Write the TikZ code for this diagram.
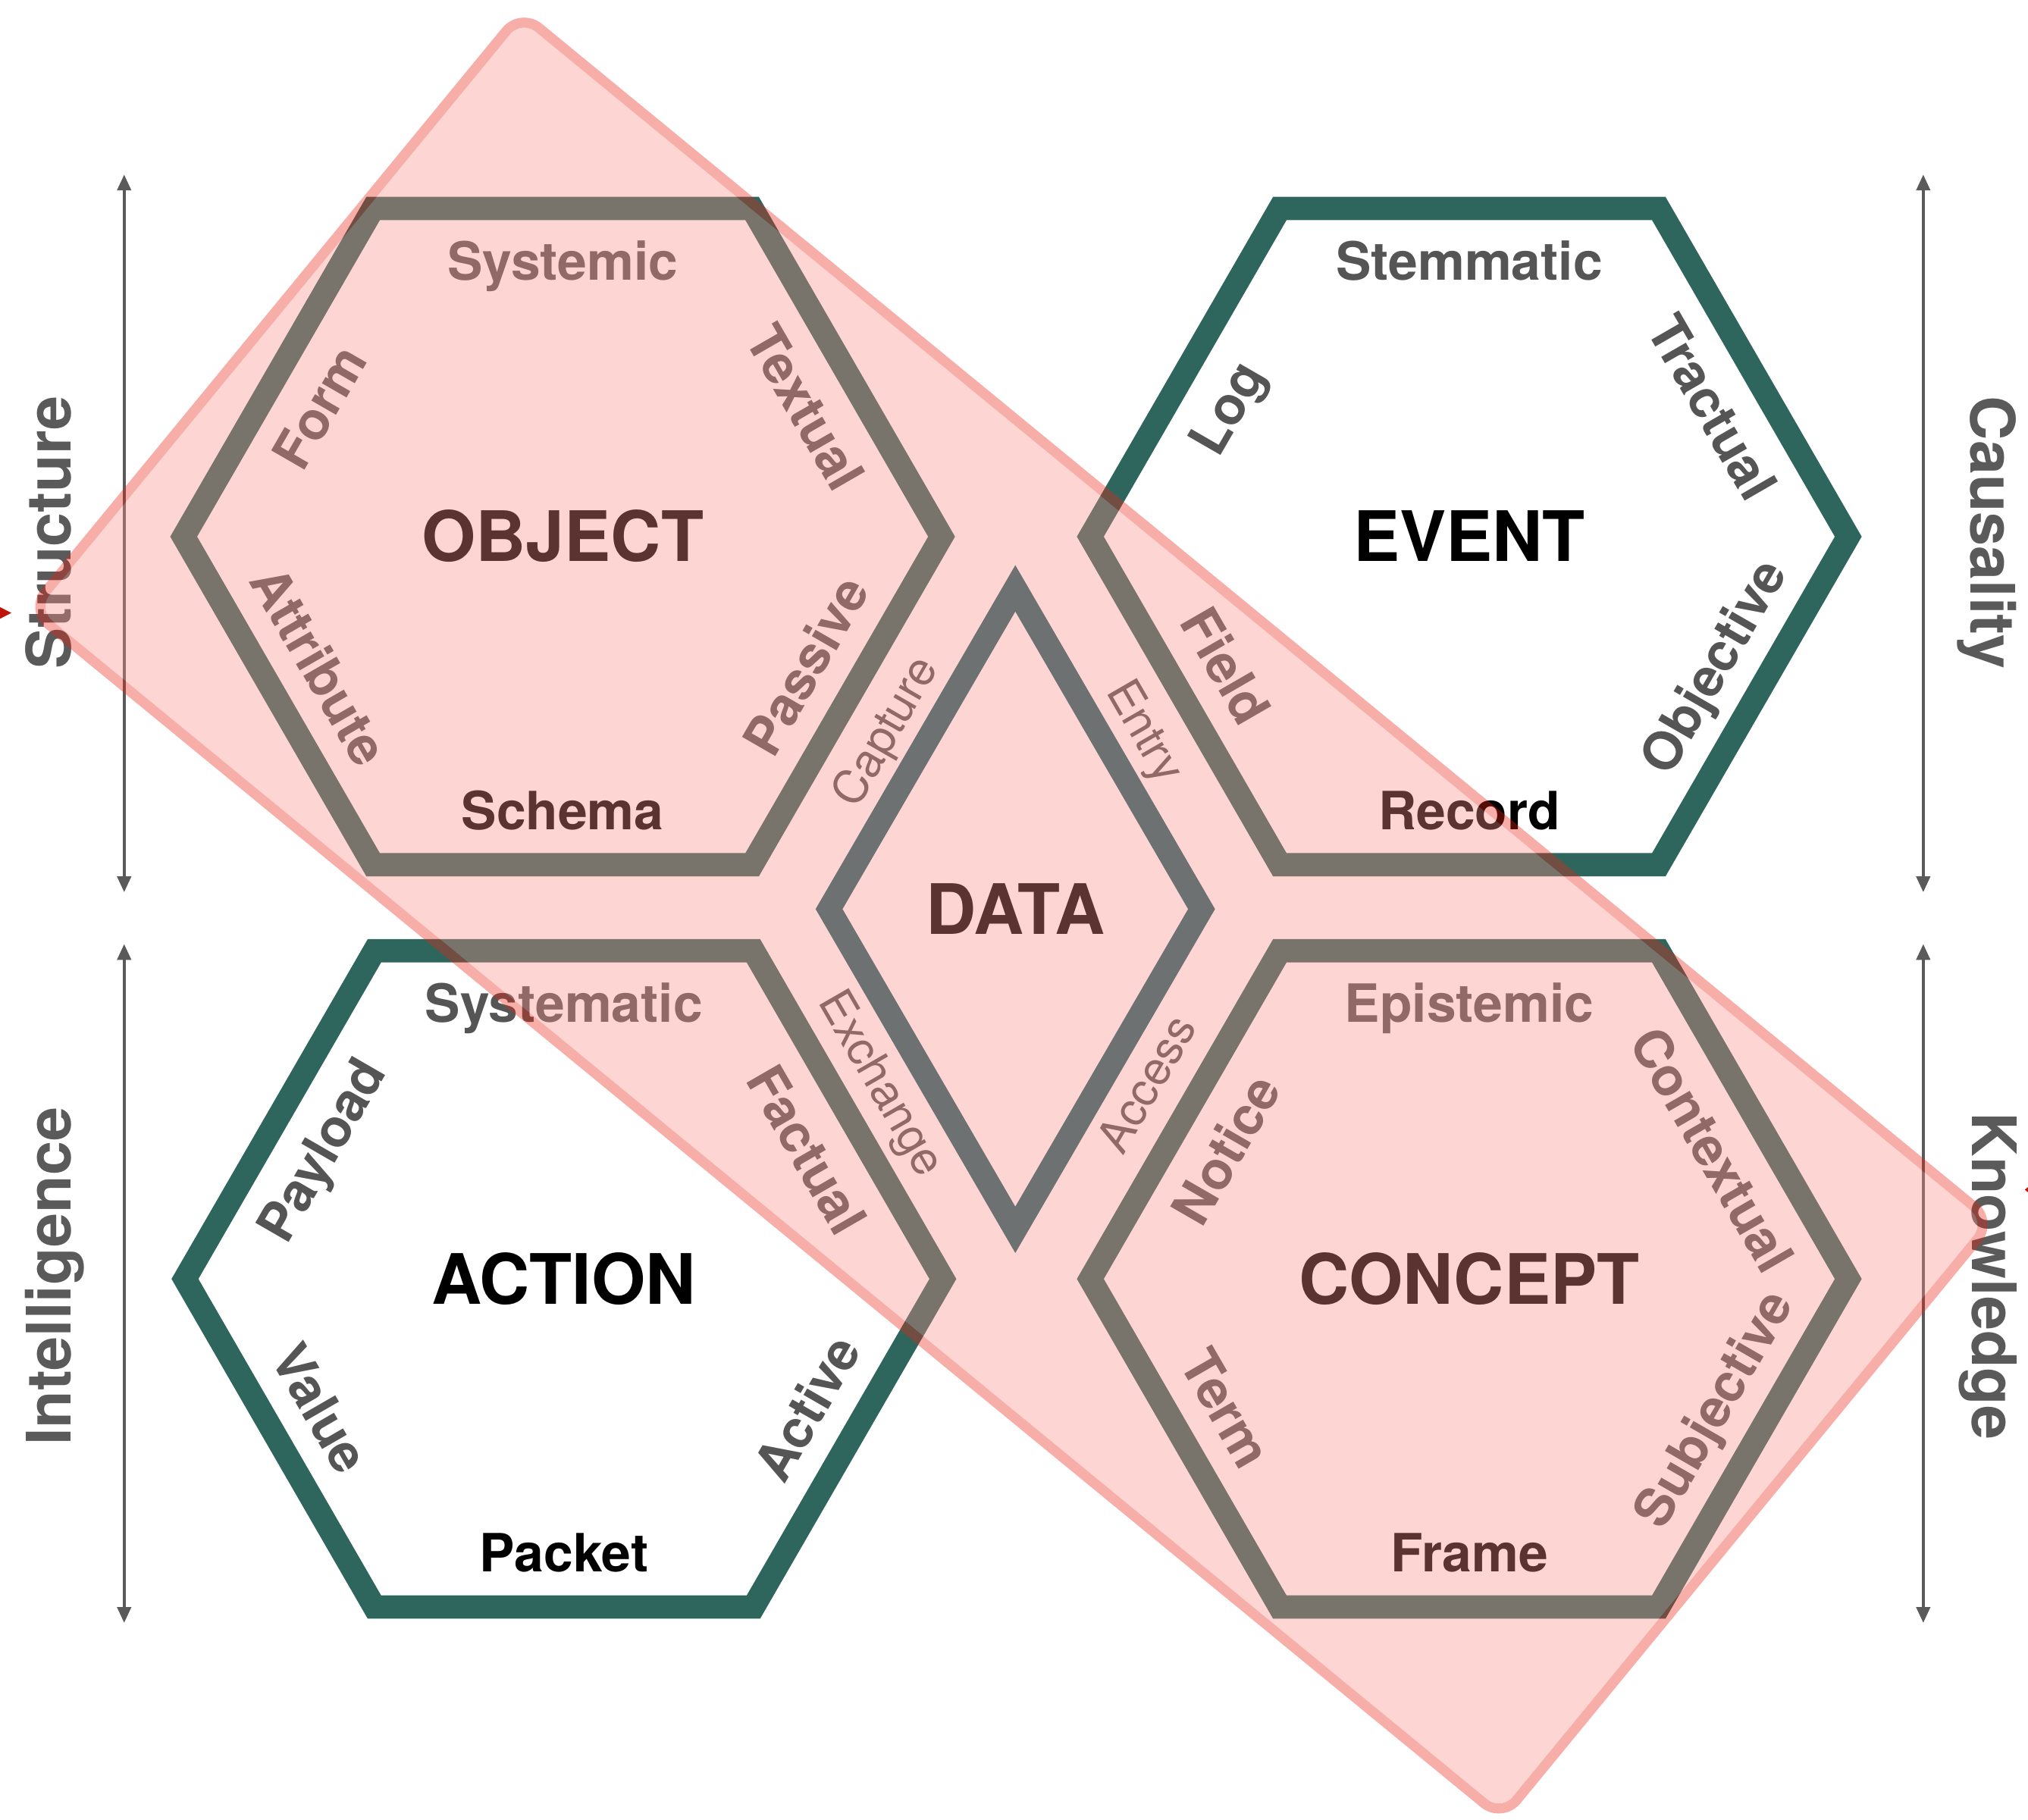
\documentclass[tikz,border=0pt]{standalone}
\usepackage{fontspec}
\setmainfont{TeX Gyre Heros}
\usepackage{tikz}
\usetikzlibrary{calc,arrows.meta}
\definecolor{hexteal}{RGB}{46,102,94}
\definecolor{datateal}{RGB}{28,98,102}
\definecolor{labelgray}{RGB}{85,85,85}
\definecolor{axisgray}{RGB}{90,90,90}
\definecolor{zonefill}{RGB}{249,140,134}
\definecolor{zoneline}{RGB}{233,35,20}
\definecolor{tipred}{RGB}{190,20,10}
\tikzset{
	% ---- default
	every path/.style={line width=0.3pt},
	every node/.style={inner sep=0pt, text depth=0pt},
	% ---- custom
	hexagon/.style={line width=0.18cm, hexteal},
	datadiamond/.style={line width=0.18cm, datateal},
	title/.style={font=\bfseries\fontsize{15.3}{18}\selectfont, text height=11pt},
	facet/.style={font=\bfseries\fontsize{11.6}{14}\selectfont, labelgray, text height=8.35pt},
	basis/.style={font=\bfseries\fontsize{11.6}{14}\selectfont, black, text height=8.35pt},
	flow/.style={font=\fontsize{10.2}{12}\selectfont, labelgray, text height=7.35pt},
	axis/.style={line width=0.7pt, axisgray, <->, >={Triangle[length=3.5pt, width=3pt]}},
	axis label/.style={font=\bfseries\fontsize{13.5}{16}\selectfont, axisgray, text height=9.7pt},
	zone fill/.style={fill=zonefill, fill opacity=0.37},
	zone line/.style={draw=zoneline, draw opacity=0.37, line width=0.078cm},
}
\begin{document}
\begin{tikzpicture}

% coordinates %{{{2

	\useasboundingbox (0,0) rectangle (15.68,14.07);

	\coordinate (object) at (4.35,9.92);
	\coordinate (event) at (11.36,9.92);
	\coordinate (action) at (4.36,4.18);
	\coordinate (concept) at (11.36,4.18);
	\coordinate (data) at (7.85,7.04);

	\coordinate (dt) at (7.85,9.52);
	\coordinate (dr) at (9.29,7.04);
	\coordinate (db) at (7.85,4.56);
	\coordinate (dl) at (6.41,7.04);

% hexagons %{{{2

	\draw[hexagon] (object) ++(0:2.93) -- ++(120:2.93) -- ++(180:2.93) -- ++(240:2.93) -- ++(300:2.93) -- ++(0:2.93) -- cycle;
	\draw[hexagon] (event) ++(0:2.93) -- ++(120:2.93) -- ++(180:2.93) -- ++(240:2.93) -- ++(300:2.93) -- ++(0:2.93) -- cycle;
	\draw[hexagon] (action) ++(0:2.93) -- ++(120:2.93) -- ++(180:2.93) -- ++(240:2.93) -- ++(300:2.93) -- ++(0:2.93) -- cycle;
	\draw[hexagon] (concept) ++(0:2.93) -- ++(120:2.93) -- ++(180:2.93) -- ++(240:2.93) -- ++(300:2.93) -- ++(0:2.93) -- cycle;

% diamond %{{{2

	\draw[datadiamond] (dl) -- (dt) -- (dr) -- (db) -- cycle;

% object labels %{{{2

	\node[title] (objtitle) at (object) {OBJECT};
	\node[facet] (systemic) at ($(object)+(90:2.13)$) {Systemic};
	\node[facet, rotate=60] (form) at ($(object)+(152:2.13)$) {Form};
	\node[facet, rotate=-60] (textual) at ($(object)+(28:2.13)$) {Textual};
	\node[facet, rotate=-60] (attribute) at ($(object)+(208:2.13)$) {Attribute};
	\node[facet, rotate=60] (passive) at ($(object)+(-28:2.13)$) {Passive};
	\node[basis] (schema) at ($(object)+(-90:2.12)$) {Schema};

% event labels %{{{2

	\node[title] (evttitle) at (event) {EVENT};
	\node[facet] (stemmatic) at ($(event)+(90:2.13)$) {Stemmatic};
	\node[facet, rotate=60] (log) at ($(event)+(152:2.13)$) {Log};
	\node[facet, rotate=-60] (tractual) at ($(event)+(28:2.13)$) {Tractual};
	\node[facet, rotate=-60] (field) at ($(event)+(208:2.13)$) {Field};
	\node[facet, rotate=60] (objective) at ($(event)+(-28:2.13)$) {Objective};
	\node[basis] (record) at ($(event)+(-90:2.12)$) {Record};

% action labels %{{{2

	\node[title] (acttitle) at (action) {ACTION};
	\node[facet] (systematic) at ($(action)+(90:2.13)$) {Systematic};
	\node[facet, rotate=60] (payload) at ($(action)+(152:2.13)$) {Payload};
	\node[facet, rotate=-60] (factual) at ($(action)+(28:2.13)$) {Factual};
	\node[facet, rotate=-60] (value) at ($(action)+(208:2.13)$) {Value};
	\node[facet, rotate=60] (active) at ($(action)+(-28:2.13)$) {Active};
	\node[basis] (packet) at ($(action)+(-90:2.12)$) {Packet};

% concept labels %{{{2

	\node[title] (contitle) at (concept) {CONCEPT};
	\node[facet] (epistemic) at ($(concept)+(90:2.13)$) {Epistemic};
	\node[facet, rotate=60] (notice) at ($(concept)+(152:2.13)$) {Notice};
	\node[facet, rotate=-60] (contextual) at ($(concept)+(28:2.13)$) {Contextual};
	\node[facet, rotate=-60] (term) at ($(concept)+(208:2.13)$) {Term};
	\node[facet, rotate=60] (subjective) at ($(concept)+(-28:2.13)$) {Subjective};
	\node[basis] (frame) at ($(concept)+(-90:2.12)$) {Frame};

% data labels %{{{2

	\node[title] (datatitle) at (data) {DATA};
	\node[flow, rotate=60] (capture) at ($(data)+(-1.02,1.38)$) {Capture};
	\node[flow, rotate=-60] (entry) at ($(data)+(1.02,1.38)$) {Entry};
	\node[flow, rotate=-60] (exchange) at ($(data)+(-1.02,-1.34)$) {Exchange};
	\node[flow, rotate=60] (access) at ($(data)+(1.01,-1.35)$) {Access};

% axes %{{{2

	\coordinate (stop) at (0.96,12.72);
	\coordinate (sbot) at (0.96,7.17);
	\coordinate (itop) at (0.96,6.77);
	\coordinate (ibot) at (0.96,1.52);
	\coordinate (ctop) at (14.87,12.72);
	\coordinate (cbot) at (14.87,7.17);
	\coordinate (ktop) at (14.87,6.77);
	\coordinate (kbot) at (14.87,1.52);

	\draw[axis] (stop) -- (sbot);
	\draw[axis] (itop) -- (ibot);
	\draw[axis] (ctop) -- (cbot);
	\draw[axis] (ktop) -- (kbot);

	\node[axis label, rotate=90] (structure) at (0.38,9.95) {Structure};
	\node[axis label, rotate=90] (intelligence) at (0.38,4.2) {Intelligence};
	\node[axis label, rotate=-90] (causality) at (15.41,9.95) {Causality};
	\node[axis label, rotate=-90] (knowledge) at (15.42,4.2) {Knowledge};

% highlight zone %{{{2

	\begin{scope}[shift={(7.82,6.99)}, rotate=-39.4]
		\fill[zone fill, rounded corners=0.14cm] (-7.32,-2.945) rectangle (7.32,2.945);
		\draw[zone line, rounded corners=0.18cm] (-7.36,-2.985) rectangle (7.36,2.985);
	\end{scope}

	\fill[tipred] (0,9.375) -- (0.088,9.33) -- (0,9.285) -- cycle;
	\fill[tipred] (15.68,4.89) -- (15.655,4.87) -- (15.68,4.85) -- cycle;

% closing %{{{2

\end{tikzpicture}
\end{document}
